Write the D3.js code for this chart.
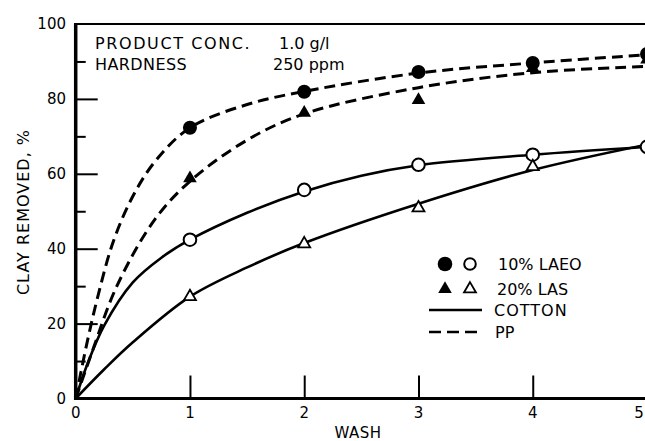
<!DOCTYPE html>
<html><head><meta charset="utf-8">
<script src="https://cdn.jsdelivr.net/npm/d3@7"></script>
<style>
html,body{margin:0;padding:0;background:#fff;}
svg{display:block;}
text{font-family:"DejaVu Sans",sans-serif;fill:#000;}
</style></head>
<body>
<svg id="chart" width="645" height="441"></svg>
<script>
// ---- data ----
const yTicksMajor = [0, 20, 40, 60, 80, 100];
const yTicksMinor = [10, 30, 50, 70, 90];
const xTicks = [0, 1, 2, 3, 4, 5];

// smooth fitted curves
const laeoPPWash   = [0, 0.1, 0.2, 0.33, 0.5, 0.7, 1, 1.5, 2, 3, 4, 5];
const laeoPPCurve  = [0, 15, 28, 42, 54, 63.5, 72.3, 78.5, 82, 86.9, 89.6, 91.8];
const lasPPWash    = [0, 0.15, 0.36, 0.69, 1, 1.5, 2, 3, 4, 5];
const lasPPCurve   = [0, 13, 30, 47.7, 58, 69, 76, 83, 87, 88.7];
const laeoCotWash  = [0, 0.1, 0.25, 0.5, 0.75, 1, 1.5, 2, 2.5, 3, 4, 5];
const laeoCotCurve = [0, 9, 19.5, 31, 37.6, 42.4, 49.6, 55.3, 59.5, 62.3, 65.1, 67.2];
const lasCotCurveWash = [0, 0.25, 0.5, 1, 1.5, 2, 3, 4, 5];
const lasCotCurve  = [0, 7.8, 15, 27.2, 35, 41.5, 52, 61, 67.8];

// measured points
const pointWash = [1, 2, 3, 4, 5];
const laeoPPPts  = [72.3, 81.9, 87.2, 89.6, 92];
const lasPPPts   = [58.8, 76.3, 79.7, 88.2, 90.5];
const laeoCotPts = [42.4, 55.7, 62.4, 65.1, 67.2];
const lasCotPtWash = [1, 2, 3, 4];
const lasCotPts  = [27.2, 41.3, 50.9, 61.9];

// ---- layout ----
const svg = d3.select("#chart");
const x = d3.scaleLinear().domain([0, 5]).range([75.7, 647]);
const y = d3.scaleLinear().domain([0, 100]).range([398.5, 24]);

// curves
const line = d3.line().x(d => x(d[0])).y(d => y(d[1])).curve(d3.curveCatmullRom.alpha(0.5));
const zip = (xs, ys) => xs.map((v, i) => [v, ys[i]]);
const dash = "11,6";

svg.append("path").attr("d", line(zip(laeoPPWash, laeoPPCurve)))
  .attr("fill", "none").attr("stroke", "#000").attr("stroke-width", 3).attr("stroke-dasharray", dash);
svg.append("path").attr("d", line(zip(lasPPWash, lasPPCurve)))
  .attr("fill", "none").attr("stroke", "#000").attr("stroke-width", 3).attr("stroke-dasharray", dash);
svg.append("path").attr("d", line(zip(laeoCotWash, laeoCotCurve)))
  .attr("fill", "none").attr("stroke", "#000").attr("stroke-width", 2.6);
svg.append("path").attr("d", line(zip(lasCotCurveWash, lasCotCurve)))
  .attr("fill", "none").attr("stroke", "#000").attr("stroke-width", 2.6);

// axes
const yAxisMajor = d3.axisLeft(y).tickValues(yTicksMajor.filter(v => v > 0 && v < 100)).tickSize(-22).tickFormat("");
const yAxisMinor = d3.axisLeft(y).tickValues(yTicksMinor).tickSize(-10).tickFormat("");
const xAxis = d3.axisBottom(x).tickValues(xTicks.filter(v => v > 0)).tickSize(-23).tickFormat("");

const gy1 = svg.append("g").attr("transform", `translate(${x(0)},0)`).call(yAxisMajor);
const gy2 = svg.append("g").attr("transform", `translate(${x(0)},0)`).call(yAxisMinor);
const gx = svg.append("g").attr("transform", `translate(0,${y(0)})`).call(xAxis);
[gy1, gy2, gx].forEach(g => {
  g.select(".domain").remove();
  g.selectAll(".tick line").attr("stroke", "#000").attr("stroke-width", 2);
});

// frame lines
svg.append("line").attr("x1", x(0)).attr("x2", x(0)).attr("y1", y(100) - 1).attr("y2", y(0) + 1.5)
  .attr("stroke", "#000").attr("stroke-width", 3.5);
svg.append("line").attr("x1", x(0) - 1.5).attr("x2", 645).attr("y1", y(0)).attr("y2", y(0))
  .attr("stroke", "#000").attr("stroke-width", 3.2);
svg.append("line").attr("x1", x(0)).attr("x2", 645).attr("y1", y(100)).attr("y2", y(100))
  .attr("stroke", "#000").attr("stroke-width", 2.2);

// tick labels
svg.append("g").selectAll("text").data(yTicksMajor).join("text")
  .attr("x", 66).attr("y", d => y(d)).attr("dy", "0.36em")
  .attr("text-anchor", "end").attr("font-size", 15).text(d => d);
svg.append("g").selectAll("text").data(xTicks).join("text")
  .attr("x", d => Math.min(x(d), 639)).attr("y", 413).attr("dy", "0.36em")
  .attr("text-anchor", "middle").attr("font-size", 15).text(d => d);

// axis titles
svg.append("text").attr("transform", "translate(23,212) rotate(-90)")
  .attr("text-anchor", "middle").attr("dy", "0.36em").attr("font-size", 16)
  .attr("letter-spacing", 1).text("CLAY REMOVED, %");
svg.append("text").attr("x", 358).attr("y", 433).attr("dy", "0.36em")
  .attr("text-anchor", "middle").attr("font-size", 15).attr("letter-spacing", 0.5).text("WASH");

// markers
const triFilled = d3.symbol().type(d3.symbolTriangle).size(80);
const triOpen = d3.symbol().type(d3.symbolTriangle).size(62);
function drawCircles(xs, ys, filled) {
  svg.append("g").selectAll("circle").data(zip(xs, ys)).join("circle")
    .attr("cx", d => x(d[0])).attr("cy", d => y(d[1]))
    .attr("r", filled ? 7 : 6.3)
    .attr("fill", filled ? "#000" : "#fff").attr("stroke", "#000").attr("stroke-width", filled ? 0 : 2);
}
function drawTris(xs, ys, filled) {
  svg.append("g").selectAll("path").data(zip(xs, ys)).join("path")
    .attr("transform", d => `translate(${x(d[0])},${y(d[1])})`)
    .attr("d", filled ? triFilled() : triOpen())
    .attr("fill", filled ? "#000" : "#fff").attr("stroke", "#000").attr("stroke-width", filled ? 0 : 1.8);
}
drawTris(pointWash, lasPPPts, true);
drawCircles(pointWash, laeoPPPts, true);
drawCircles(pointWash, laeoCotPts, false);
drawTris(lasCotPtWash, lasCotPts, false);

// annotation
const ann = svg.append("g").attr("font-size", 16);
ann.append("text").attr("x", 95).attr("y", 49).attr("letter-spacing", 1.6).text("PRODUCT CONC.");
ann.append("text").attr("x", 279).attr("y", 49).text("1.0 g/l");
ann.append("text").attr("x", 95).attr("y", 70).attr("letter-spacing", 0.4).text("HARDNESS");
ann.append("text").attr("x", 273).attr("y", 70).text("250 ppm");

// legend
const lg = svg.append("g").attr("font-size", 16);
lg.append("circle").attr("cx", 445).attr("cy", 264).attr("r", 7.3).attr("fill", "#000");
lg.append("circle").attr("cx", 470).attr("cy", 264).attr("r", 5.8).attr("fill", "#fff").attr("stroke", "#000").attr("stroke-width", 2);
lg.append("text").attr("x", 498).attr("y", 264).attr("dy", "0.36em").text("10% LAEO");
lg.append("path").attr("transform", "translate(445,289)").attr("d", triFilled()).attr("fill", "#000");
lg.append("path").attr("transform", "translate(470,289)").attr("d", triOpen()).attr("fill", "#fff").attr("stroke", "#000").attr("stroke-width", 1.8);
lg.append("text").attr("x", 497).attr("y", 289).attr("dy", "0.36em").text("20% LAS");
lg.append("line").attr("x1", 429).attr("x2", 482).attr("y1", 310).attr("y2", 310).attr("stroke", "#000").attr("stroke-width", 2.6);
lg.append("text").attr("x", 494).attr("y", 310).attr("dy", "0.36em").attr("letter-spacing", 1).text("COTTON");
lg.append("line").attr("x1", 429).attr("x2", 482).attr("y1", 332).attr("y2", 332).attr("stroke", "#000").attr("stroke-width", 2.6).attr("stroke-dasharray", "12,6");
lg.append("text").attr("x", 495).attr("y", 332).attr("dy", "0.36em").text("PP");
</script>
</body></html>
